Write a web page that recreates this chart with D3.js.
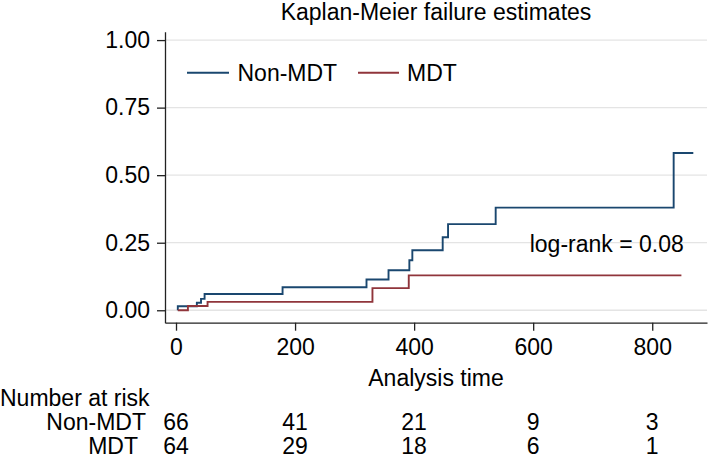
<!DOCTYPE html>
<html>
<head>
<meta charset="utf-8">
<script src="https://cdn.jsdelivr.net/npm/d3@7"></script>
<style>
  html, body { margin: 0; padding: 0; background: #fff; }
  svg { display: block; font-family: "Liberation Sans", Arial, Helvetica, sans-serif; }
</style>
</head>
<body>
<svg id="chart" width="709" height="461"></svg>
<script>
// ---- data ----
const groups = ["Non-MDT", "MDT"];
const nonMdtTime = [3, 3, 35, 42, 48, 179, 320, 357, 392, 397, 448, 457, 537, 836, 869];
const nonMdtFail = [0, 0.015, 0.028, 0.042, 0.060, 0.085, 0.114, 0.148, 0.185, 0.222, 0.270, 0.319, 0.380, 0.582, 0.582];
const mdtTime = [3, 20, 53, 330, 391, 849];
const mdtFail = [0, 0.016, 0.031, 0.082, 0.129, 0.129];
const xTicks = [0, 200, 400, 600, 800];
const yTicks = [0, 0.25, 0.5, 0.75, 1];
const riskTimes = [0, 200, 400, 600, 800];
const riskNonMdt = [66, 41, 21, 9, 3];
const riskMdt = [64, 29, 18, 6, 1];
const titleText = "Kaplan-Meier failure estimates";
const xTitle = "Analysis time";
const riskTitle = "Number at risk";
const annotation = "log-rank = 0.08";

// ---- layout ----
const colors = { "Non-MDT": "#1a476f", "MDT": "#90353b" };
const FS = 23;
const svg = d3.select("#chart");
const x = d3.scaleLinear().domain([-18.5, 892]).range([165, 707]);
const y = d3.scaleLinear().domain([-0.046, 1.031]).range([322.7, 31.7]);

// gridlines
svg.append("g").selectAll("line").data(yTicks).join("line")
  .attr("x1", 166).attr("x2", 707)
  .attr("y1", d => y(d)).attr("y2", d => y(d))
  .attr("stroke", "#e4e4e4").attr("stroke-width", 1.3);

// axes
const yAxis = svg.append("g").attr("transform", "translate(165,0)")
  .call(d3.axisLeft(y).tickValues(yTicks).tickFormat(d3.format(".2f")).tickSize(8).tickSizeOuter(0).tickPadding(7));
const xAxis = svg.append("g").attr("transform", "translate(0,322.7)")
  .call(d3.axisBottom(x).tickValues(xTicks).tickFormat(d3.format("d")).tickSize(8).tickSizeOuter(0).tickPadding(8));
[yAxis, xAxis].forEach(g => {
  g.selectAll("path.domain").attr("stroke", "#222").attr("stroke-width", 1.3);
  g.selectAll(".tick line").attr("stroke", "#222").attr("stroke-width", 1.3);
  g.selectAll("text").attr("font-size", FS).attr("fill", "#000")
    .attr("font-family", "'Liberation Sans', Arial, sans-serif");
});

// curves
const line = d3.line().curve(d3.curveStepAfter).x(d => x(d[0])).y(d => y(d[1]));
const series = [
  { name: "Non-MDT", pts: nonMdtTime.map((t, i) => [t, nonMdtFail[i]]) },
  { name: "MDT", pts: mdtTime.map((t, i) => [t, mdtFail[i]]) }
];
svg.append("g").selectAll("path").data(series).join("path")
  .attr("d", d => line(d.pts))
  .attr("fill", "none")
  .attr("stroke", d => colors[d.name])
  .attr("stroke-width", 1.9);

// title
svg.append("text").attr("x", 436).attr("y", 20).attr("text-anchor", "middle")
  .attr("font-size", FS).text(titleText);

// x title
svg.append("text").attr("x", 436).attr("y", 386).attr("text-anchor", "middle")
  .attr("font-size", FS).text(xTitle);

// legend
const legendPos = [{ x1: 187, x2: 229, tx: 237.5 }, { x1: 358, x2: 399, tx: 407 }];
groups.forEach((g, i) => {
  const p = legendPos[i];
  svg.append("line").attr("x1", p.x1).attr("x2", p.x2).attr("y1", 72.7).attr("y2", 72.7)
    .attr("stroke", colors[g]).attr("stroke-width", 1.9);
  svg.append("text").attr("x", p.tx).attr("y", 81).attr("font-size", FS).text(g);
});

// annotation
svg.append("text").attr("x", x(853)).attr("y", 251.7).attr("text-anchor", "end")
  .attr("font-size", FS).text(annotation);

// risk table
svg.append("text").attr("x", 0).attr("y", 405.5).attr("font-size", FS).text(riskTitle);
const rows = [
  { label: groups[0], vals: riskNonMdt, y: 429.5, lx: 146 },
  { label: groups[1], vals: riskMdt, y: 453.5, lx: 138 }
];
rows.forEach(r => {
  svg.append("text").attr("x", r.lx).attr("y", r.y).attr("text-anchor", "end")
    .attr("font-size", FS).text(r.label);
  svg.append("g").selectAll("text").data(r.vals).join("text")
    .attr("x", (d, i) => x(riskTimes[i])).attr("y", r.y)
    .attr("text-anchor", "middle").attr("font-size", FS).text(d => d);
});
</script>
</body>
</html>
